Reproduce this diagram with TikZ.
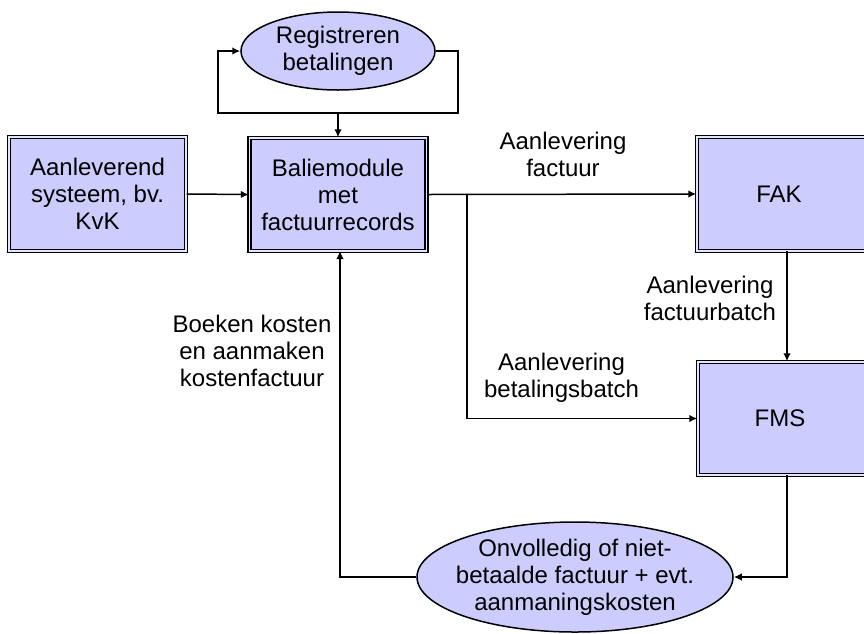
\documentclass[tikz,border=0pt]{standalone}
\usepackage{fontspec}
\setmainfont{Liberation Sans}
\usetikzlibrary{shapes.geometric,arrows.meta}
\definecolor{lav}{HTML}{CCCCFF}
\definecolor{lavgap}{HTML}{E4E4FF}
\tikzset{
  box/.style={draw=black, line width=1.4pt, double=lavgap, double distance=1.6pt,
    fill=lav, inner sep=0pt, align=center},
  oval/.style={ellipse, draw=black, line width=1.5pt, fill=lav, inner sep=-40pt, align=center},
  lbl/.style={inner sep=0pt, align=center},
  conn/.style={line width=1.5pt, black},
  arr/.style={conn, -{Latex[length=8pt,width=7.5pt]}},
}
\begin{document}
\begin{tikzpicture}[x=1pt,y=-1pt, font=\fontsize{24}{27}\selectfont]
\clip (0,0) rectangle (864,633);
\fill[white] (0,0) rectangle (864,633);
% nodes
\node[box, minimum width=177pt, minimum height=114pt] (A) at (97.5,194) {Aanleverend\\systeem, bv.\\KvK};
\node[box, minimum width=177pt, minimum height=113pt] (B) at (338,194.5) {Baliemodule\\met\\factuurrecords};
\node[box, minimum width=282pt, minimum height=114pt] (FAK) at (838,194) {\hspace*{-118pt}FAK};
\node[box, minimum width=282pt, minimum height=113pt] (FMS) at (839,418.5) {\hspace*{-118pt}FMS};
\node[oval, minimum width=194pt, minimum height=78pt] (R) at (338,51) {Registreren\\betalingen};
\node[oval, minimum width=316pt, minimum height=110pt] (O) at (575,577) {Onvolledig of niet-\\betaalde factuur + evt.\\aanmaningskosten};
% labels
\node[lbl] (l1) at (563,154) {Aanlevering\\factuur};
\node[lbl] (l2) at (710,298) {Aanlevering\\factuurbatch};
\node[lbl] (l3) at (561.5,378) {Aanlevering\\betalingsbatch};
\node[lbl] (l4) at (252,351) {Boeken kosten\\en aanmaken\\kostenfactuur};
% coordinates
\coordinate (lr) at (458,51);
\coordinate (lrb) at (458,113);
\coordinate (llb) at (218,113);
\coordinate (ll) at (218,51);
\coordinate (lm) at (338,113);
\coordinate (br) at (467,194);
\coordinate (brb) at (467,418.5);
\coordinate (fk) at (787,251);
\coordinate (fm) at (787,475);
\coordinate (fmb) at (787,577);
\coordinate (ob) at (340,577);
\coordinate (bb) at (340,251);
% connectors
\draw[arr] (A.east) -- (B.west);
\draw[arr] (R.east) -- (lr) -- (lrb) -- (llb) -- (ll) -- (R.west);
\draw[arr] (lm) -- (B.north);
\draw[arr] (B.east) -- (FAK.west);
\draw[arr] (br) -- (brb) -- (FMS.west);
\draw[arr] (fk) -- (fk |- FMS.north);
\draw[arr] (fm) -- (fmb) -- (O.east);
\draw[arr] (O.west) -- (ob) -- (bb);
\end{tikzpicture}
\end{document}
